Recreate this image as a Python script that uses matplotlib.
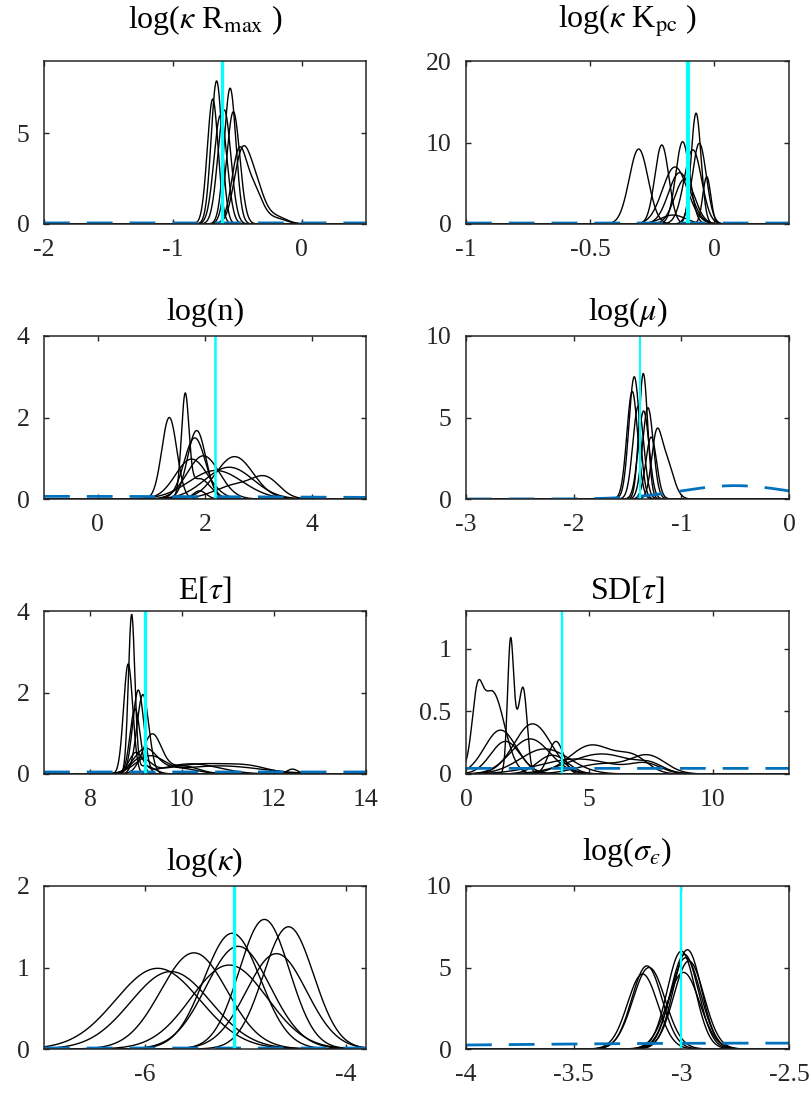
import numpy as np
import matplotlib
matplotlib.use('Agg')
import matplotlib.pyplot as plt
from matplotlib import transforms

plt.rcParams['font.family'] = ['Liberation Serif', 'DejaVu Serif']
plt.rcParams['mathtext.fontset'] = 'stix'
plt.rcParams['axes.unicode_minus'] = False

# parameter names, one panel each
titles = [r'log($\kappa$ R$_{\rm max}$ )', r'log($\kappa$ K$_{\rm pc}$ )', 'log(n)', r'log($\mu$)',
          r'E[$\tau$]', r'SD[$\tau$]', r'log($\kappa$)', r'log($\sigma_{ϵ}$)']

# value used to simulate the data
true_values = [-0.62, -0.105, 2.19, -1.384, 9.2, 3.9, -5.107, -3.0]

# posterior density of every chain, as (centre, spread, height) bumps
rmax_chains = [
    [(-0.66, 0.042, 7.9)],
    [(-0.69, 0.042, 6.9)],
    [(-0.555, 0.045, 7.5)],
    [(-0.53, 0.05, 6.2)],
    [(-0.60, 0.05, 6.3)],
    [(-0.63, 0.05, 6.0)],
    [(-0.49, 0.055, 3.6), (-0.38, 0.07, 2.0), (-0.2, 0.08, 0.3)],
    [(-0.47, 0.06, 3.3), (-0.37, 0.07, 2.3), (-0.2, 0.08, 0.4)],
]
kpc_chains = [
    [(-0.305, 0.038, 9.2)],
    [(-0.212, 0.028, 9.7)],
    [(-0.128, 0.028, 10.1)],
    [(-0.074, 0.02, 13.6)],
    [(-0.061, 0.028, 9.9)],
    [(-0.087, 0.035, 9.1)],
    [(-0.159, 0.05, 7.0)],
    [(-0.14, 0.045, 6.3)],
    [(-0.12, 0.04, 5.5)],
    [(-0.031, 0.016, 5.8)],
    [(-0.167, 0.05, 1.1)],
]
logn_chains = [
    [(1.335, 0.14, 2.0)],
    [(1.63, 0.07, 2.4), (1.9, 0.2, 0.5)],
    [(1.845, 0.17, 1.68)],
    [(1.81, 0.2, 1.5)],
    [(1.97, 0.3, 1.06)],
    [(1.75, 0.3, 0.98)],
    [(2.55, 0.35, 1.04)],
    [(3.15, 0.25, 0.42), (2.6, 0.4, 0.35)],
    [(2.45, 0.45, 0.78)],
    [(2.2, 0.5, 0.7)],
    [(1.9, 0.12, 0.2)],
]
mu_chains = [
    [(-1.437, 0.05, 7.5)],
    [(-1.353, 0.04, 7.7)],
    [(-1.456, 0.05, 6.6)],
    [(-1.31, 0.05, 5.6)],
    [(-1.235, 0.045, 3.0), (-1.15, 0.07, 2.5)],
    [(-1.35, 0.05, 5.4)],
    [(-1.40, 0.05, 5.7)],
    [(-1.28, 0.05, 3.8)],
]
etau_chains = [
    [(8.905, 0.07, 3.85), (9.2, 0.2, 0.2)],
    [(8.83, 0.1, 2.7)],
    [(9.05, 0.12, 2.06)],
    [(9.15, 0.13, 1.95)],
    [(8.98, 0.11, 1.6)],
    [(9.35, 0.2, 0.95), (10.0, 0.35, 0.2)],
    [(9.1, 0.2, 0.35), (10.5, 0.8, 0.25), (11.5, 0.4, 0.1)],
    [(9.3, 0.3, 0.4), (10.8, 0.9, 0.2)],
    [(9.0, 0.15, 0.5), (10.2, 0.6, 0.25), (12.4, 0.12, 0.12)],
    [(9.2, 0.25, 0.6), (9.9, 0.4, 0.15)],
]
sdtau_chains = [
    [(0.45, 0.2, 0.4), (1.05, 0.5, 0.66)],
    [(1.8, 0.12, 0.95), (2.08, 0.2, 0.35), (2.35, 0.15, 0.53)],
    [(1.4, 0.65, 0.35)],
    [(2.7, 0.75, 0.40)],
    [(1.6, 0.6, 0.26)],
    [(2.6, 0.8, 0.28)],
    [(3.65, 0.3, 0.26)],
    [(5.1, 0.9, 0.23), (6.8, 0.6, 0.12)],
    [(5.5, 1.3, 0.16), (7.5, 0.5, 0.05)],
    [(7.4, 0.7, 0.14), (5.5, 1.0, 0.08)],
    [(4.5, 1.5, 0.12), (7.3, 0.6, 0.07)],
    [(3.5, 0.6, 0.15)],
    [(3.2, 1.0, 0.2)],
]
logk_chains = [
    [(-5.87, 0.42, 0.99)],
    [(-5.74, 0.40, 0.95)],
    [(-5.51, 0.33, 1.18)],
    [(-5.13, 0.28, 1.42)],
    [(-5.07, 0.32, 1.26)],
    [(-5.16, 0.38, 1.03)],
    [(-4.81, 0.25, 1.59)],
    [(-4.57, 0.25, 1.50)],
    [(-4.69, 0.30, 1.17)],
]
sig_chains = [
    [(-3.16, 0.07, 5.1)],
    [(-3.15, 0.075, 5.0)],
    [(-3.18, 0.07, 4.6)],
    [(-2.972, 0.065, 6.09)],
    [(-3.0, 0.065, 6.0)],
    [(-2.98, 0.07, 5.6)],
    [(-2.99, 0.075, 4.7)],
    [(-2.965, 0.07, 5.4)],
    [(-2.985, 0.065, 5.8)],
]

# prior densities
rmax_prior = [(-0.75, 100.0, 0.06)]
kpc_prior = [(-0.3, 100.0, 0.12)]
logn_prior = [(-1.0, 6.0, 0.065)]
mu_prior = [(-0.5, 0.5, 0.82)]
etau_prior = [(10.0, 100.0, 0.05)]
sdtau_prior = [(6.0, 100.0, 0.045)]
logk_prior = [(-5.0, 100.0, 0.012)]
sig_prior = [(-2.6, 1.6, 0.36)]

chains = [rmax_chains, kpc_chains, logn_chains, mu_chains,
          etau_chains, sdtau_chains, logk_chains, sig_chains]
priors = [rmax_prior, kpc_prior, logn_prior, mu_prior,
          etau_prior, sdtau_prior, logk_prior, sig_prior]

xlims = [(-2, 0.5), (-1, 0.3), (-1, 5), (-3, 0), (7, 14), (0, 13.1), (-7, -3.8), (-4, -2.5)]
ylims = [(0, 9), (0, 20), (0, 4), (0, 10), (0, 4), (0, 1.3), (0, 2), (0, 10)]
xticks = [[-2, -1, 0], [-1, -0.5, 0], [0, 2, 4], [-3, -2, -1, 0],
          [8, 10, 12, 14], [0, 5, 10], [-6, -4], [-4, -3.5, -3, -2.5]]
yticks = [[0, 5], [0, 10, 20], [0, 2, 4], [0, 5, 10],
          [0, 2, 4], [0, 0.5, 1], [0, 1, 2], [0, 5, 10]]

# style per panel
cyan_widths = [2.4, 3.0, 1.8, 1.45, 2.4, 1.65, 2.4, 1.65]
title_lift = [32.7, 32.7, 16, 16, 12.4, 12.4, 15.7, 26]   # baseline above the box, pixels


def density(x, bumps):
    y = np.zeros_like(x)
    for c, s, h in bumps:
        y += h * np.exp(-0.5 * ((x - c) / s) ** 2)
    return y


def fmt(v):
    if float(v).is_integer():
        return '%d' % v
    return ('%g' % v)


W, H = 811, 1097
fig = plt.figure(figsize=(W / 100, H / 100), dpi=100)
col_left = [44, 466]
col_width = [322, 323]
row_top = [61, 336, 611, 886]
box_h = 163

for i in range(8):
    r, c = i // 2, i % 2
    ax = fig.add_axes([col_left[c] / W, 1 - (row_top[r] + box_h) / H, col_width[c] / W, box_h / H])
    x = np.linspace(xlims[i][0], xlims[i][1], 1500)
    for bumps in chains[i]:
        ax.plot(x, density(x, bumps), color='k', lw=1.0)
    ax.plot(x, density(x, priors[i]), color='#0072BD', lw=2.0, dashes=(9.3, 6.1))
    ax.axvline(true_values[i], color='cyan', lw=cyan_widths[i])

    ax.set_xlim(xlims[i])
    ax.set_ylim(ylims[i])
    ax.set_xticks(xticks[i])
    ax.set_xticklabels([fmt(v) for v in xticks[i]])
    ax.set_yticks(yticks[i])
    ax.set_yticklabels([fmt(v) for v in yticks[i]])
    ax.tick_params(direction='in', length=3.5, width=1.0, top=True, right=True,
                   labelsize=18.5, color='#262626', labelcolor='#262626')
    ax.tick_params(axis='x', pad=11)
    ax.tick_params(axis='y', pad=10.5)
    for sp in ax.spines.values():
        sp.set_color('#262626')
        sp.set_linewidth(1.1)

    lift = transforms.offset_copy(ax.transAxes, fig=fig, x=0, y=title_lift[i], units='dots')
    ax.text(0.5, 1.0, titles[i], transform=lift, ha='center', va='baseline',
            fontsize=23, color='black')

fig.savefig('out.png', dpi=100)
